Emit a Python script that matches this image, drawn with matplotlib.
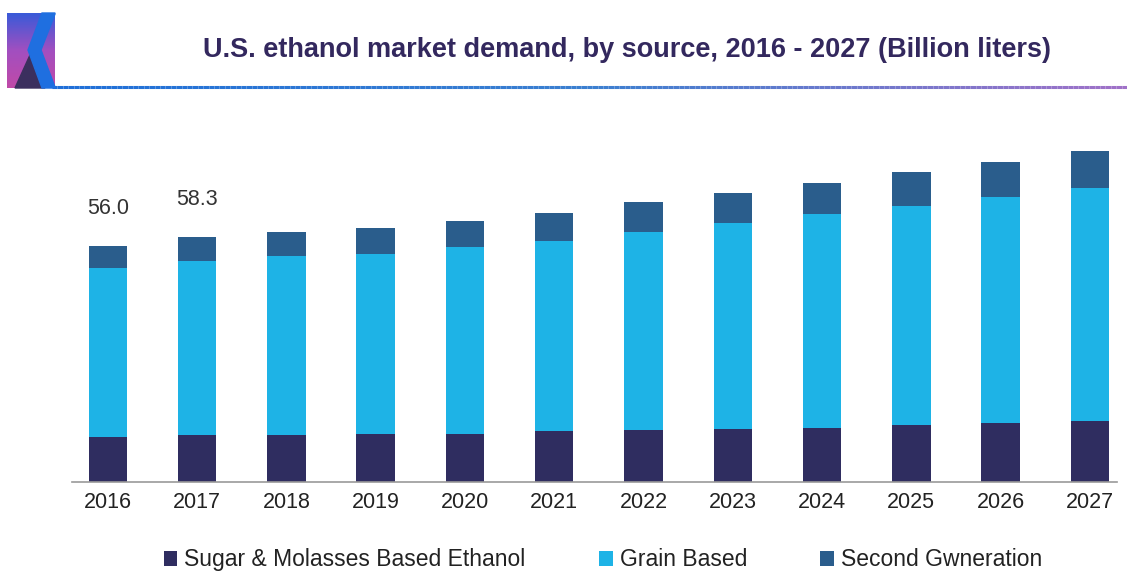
'''
U.S. ethanol market demand by source, stacked bars
'''
import numpy as np
import matplotlib
matplotlib.use('Agg')
import matplotlib.pyplot as plt
from matplotlib.collections import LineCollection
from matplotlib.colors import LinearSegmentedColormap
from matplotlib.patches import Polygon

years = ['2016', '2017', '2018', '2019', '2020', '2021', '2022', '2023', '2024', '2025', '2026', '2027']
sugar = [10.7, 11.1, 11.2, 11.4, 11.4, 12.1, 12.3, 12.6, 12.8, 13.5, 14.0, 14.5]
grain = [40.1, 41.5, 42.5, 42.7, 44.4, 45.1, 47.0, 48.9, 50.8, 52.0, 53.6, 55.3]
second = [5.2, 5.7, 5.7, 6.2, 6.2, 6.6, 7.1, 7.1, 7.4, 8.1, 8.5, 8.8]
labels = {0: '56.0', 1: '58.3'}  # only first two bars carry a total
series_names = ['Sugar & Molasses Based Ethanol', 'Grain Based', 'Second Gwneration']

c_sugar = '#2f2d60'
c_grain = '#1eb3e6'
c_second = '#2a5d8c'

plt.rcParams['font.family'] = ['Liberation Sans', 'DejaVu Sans']

fig = plt.figure(figsize=(11.27, 5.72), dpi=100)
ax = fig.add_axes([0.0639, 0.1573, 0.927, 0.589])

x = np.arange(len(years))
w = 0.43
sugar = np.array(sugar)
grain = np.array(grain)
second = np.array(second)
ax.bar(x, sugar, w, color=c_sugar, label=series_names[0])
ax.bar(x, grain, w, bottom=sugar, color=c_grain, label=series_names[1])
ax.bar(x, second, w, bottom=sugar + grain, color=c_second, label=series_names[2])

totals = sugar + grain + second
for i, txt in labels.items():
    ax.annotate(txt, (x[i], totals[i]), xytext=(0, 27), textcoords='offset points',
                ha='center', va='center', fontsize=15.5, color='#333333')

ax.set_xlim(-0.4, 11.3)
ax.set_ylim(0, 80)
ax.set_xticks(x)
ax.set_xticklabels(years, fontsize=15.5, color='#222222')
ax.tick_params(axis='x', length=0, pad=7)
ax.set_yticks([])
for s in ['top', 'right', 'left']:
    ax.spines[s].set_visible(False)
ax.spines['bottom'].set_color('#999999')
ax.spines['bottom'].set_linewidth(1.2)

fig.legend(loc='lower center', bbox_to_anchor=(0.535, -0.035), ncol=3, frameon=False,
           fontsize=16.5, handlelength=0.6, handleheight=0.6, handletextpad=0.3,
           columnspacing=3.2, labelcolor='#222222')

# header: logo, title, gradient rule
hd = fig.add_axes([0, 0, 1, 1], zorder=-1)
hd.set_xlim(0, 1127)
hd.set_ylim(572, 0)
hd.axis('off')

logo_cmap = LinearSegmentedColormap.from_list('logo', ['#3a5ad8', '#a24fc0', '#c04aa8'])
grad = np.linspace(0, 1, 50).reshape(-1, 1)
hd.imshow(grad, cmap=logo_cmap, extent=(7, 55, 88, 13), aspect='auto', zorder=1)
hd.add_patch(Polygon([(15, 88), (30, 55), (45, 88)], closed=True, color='#3b2f5e', zorder=2))
hd.add_patch(Polygon([(42, 13), (55, 13), (55, 14), (41, 50), (55, 87), (55, 88), (42, 88), (28, 50)],
                     closed=True, color='#1f6fe0', zorder=3))

xs = np.linspace(52, 1127, 200)
segs = [[(xs[i], 87), (xs[i + 1], 87)] for i in range(len(xs) - 1)]
line_cmap = LinearSegmentedColormap.from_list('rule', ['#1f6fd8', '#3b7fd0', '#a071c8'])
lc = LineCollection(segs, colors=line_cmap(np.linspace(0, 1, len(segs))), linewidths=2.2)
hd.add_collection(lc)

fig.text(0.556, 0.913, 'U.S. ethanol market demand, by source, 2016 - 2027 (Billion liters)',
         ha='center', va='center', fontsize=19.5, fontweight='bold', color='#33285e')

fig.savefig('out.png', dpi=100)
